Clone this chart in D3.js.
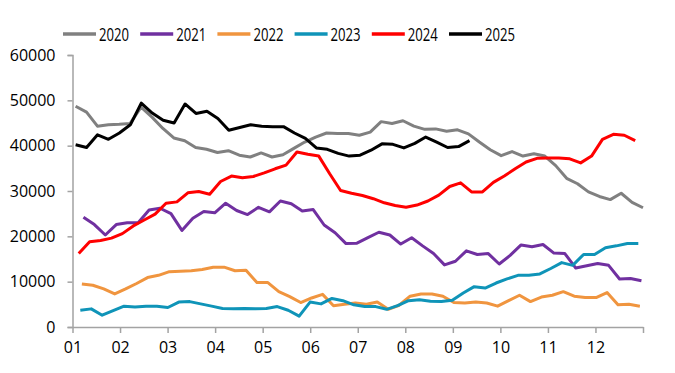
<!DOCTYPE html>
<html>
<head>
<meta charset="utf-8">
<script src="https://cdn.jsdelivr.net/npm/d3@7/dist/d3.min.js"></script>
<style>
  body { margin: 0; background: #fff; }
  svg text { font-family: 'Open Sans', sans-serif; fill: #000; }
</style>
</head>
<body>
<svg></svg>
<script>
var months = ['01', '02', '03', '04', '05', '06', '07', '08', '09', '10', '11', '12'];
var yTicks = [0, 10000, 20000, 30000, 40000, 50000, 60000];
var years = ['2020', '2021', '2022', '2023', '2024', '2025'];
var colors = ['#808080', '#7030a0', '#f0953f', '#0f94b8', '#ff0000', '#000000'];

// weekly readings, first Friday of each year
var firstDates = ['2020-01-03', '2021-01-08', '2022-01-07', '2023-01-06', '2024-01-05', '2025-01-03'];

var values2020 = [48700, 47400, 44300, 44600, 44700, 44900, 48500, 46300, 43800, 41700, 41100, 39600, 39200, 38500,
  38900, 37900, 37500, 38400, 37500, 38000, 39400, 40800, 41900, 42800, 42700, 42700, 42300, 43000, 45300, 44900,
  45500, 44300, 43600, 43700, 43200, 43500, 42600, 40800, 39100, 37800, 38700, 37700, 38200, 37700, 35600, 32800,
  31600, 29800, 28800, 28100, 29500, 27500, 26300];
var values2021 = [24200, 22600, 20300, 22600, 23000, 23000, 25800, 26200, 25000, 21300, 24000, 25500, 25200, 27300,
  25700, 24800, 26400, 25400, 27800, 27200, 25600, 25900, 22500, 20800, 18400, 18500, 19700, 20900, 20300, 18300,
  19700, 17900, 16200, 13700, 14500, 16800, 16000, 16200, 13900, 15800, 18100, 17700, 18200, 16300, 16200, 13000,
  13500, 14000, 13600, 10600, 10700, 10200];
var values2022 = [9500, 9200, 8400, 7300, 8400, 9600, 10900, 11400, 12200, 12300, 12400, 12700, 13200, 13200, 12400,
  12500, 9800, 9800, 7800, 6700, 5400, 6400, 7200, 4700, 5000, 5300, 5000, 5500, 3900, 4800, 6800, 7300, 7300, 6800,
  5400, 5300, 5500, 5300, 4600, 5800, 7000, 5600, 6600, 7000, 7800, 6800, 6500, 6500, 7600, 4900, 5000, 4600];
var values2023 = [3700, 4000, 2600, 3600, 4600, 4400, 4600, 4600, 4300, 5500, 5600, 5100, 4600, 4100, 4000, 4100, 4000,
  4100, 4500, 3700, 2400, 5500, 5100, 6300, 5800, 4900, 4500, 4500, 3900, 4700, 5800, 6000, 5700, 5600, 5900, 7500,
  8900, 8600, 9700, 10600, 11400, 11400, 11700, 12900, 14200, 13600, 16000, 16000, 17500, 17900, 18400, 18400];
var values2024 = [16200, 18800, 19100, 19600, 20600, 22300, 23600, 24900, 27300, 27600, 29600, 29900, 29300, 32100,
  33300, 32900, 33200, 34000, 34900, 35700, 38600, 38100, 37700, 33800, 30100, 29500, 29000, 28300, 27400, 26800,
  26400, 26900, 27800, 29100, 31000, 31800, 29800, 29800, 31900, 33300, 34900, 36400, 37200, 37300, 37300, 37100,
  36200, 37700, 41400, 42500, 42300, 41100];
var values2025 = [40200, 39600, 42400, 41400, 42800, 44600, 49400, 47200, 45600, 45000, 49200, 47100, 47600, 46000,
  43400, 44000, 44600, 44300, 44200, 44200, 42800, 41600, 39500, 39200, 38300, 37700, 37900, 39000, 40400, 40300,
  39500, 40500, 41900, 40800, 39600, 39800, 41100];

var allValues = [values2020, values2021, values2022, values2023, values2024, values2025];

var svgWidth = 675;
var svgHeight = 373;
var plot = { left: 72.5, right: 643, top: 55, bottom: 327 };
var axisColor = '#a3a3a3';

var svg = d3.select('svg').attr('width', svgWidth).attr('height', svgHeight);

var xScale = d3.scaleLinear().domain([0, 365]).range([plot.left, plot.right]);
var yScale = d3.scaleLinear().domain([0, 60000]).range([plot.bottom, plot.top]);

var parseDate = d3.timeParse('%Y-%m-%d');

var series = years.map(function(y, i) {
  var start = parseDate(firstDates[i]);
  var yearStart = new Date(+y, 0, 1);
  var yearLen = d3.timeDay.count(yearStart, new Date(+y + 1, 0, 1));
  return {
    year: y,
    color: colors[i],
    points: allValues[i].map(function(v, k) {
      var day = d3.timeDay.count(yearStart, d3.timeDay.offset(start, k * 7));
      return { day: day / yearLen * 365, value: v };
    })
  };
});

// y axis
var yAxis = svg.append('g')
  .attr('transform', 'translate(' + plot.left + ',0)')
  .call(d3.axisLeft(yScale).tickValues(yTicks).tickSize(5).tickPadding(12).tickFormat(d3.format('d')));
yAxis.select('.domain').attr('stroke', axisColor).attr('stroke-width', 1.5);
yAxis.selectAll('.tick line').attr('stroke', axisColor).attr('stroke-width', 1.5);
yAxis.selectAll('.tick text').style('font-size', '16px').attr('fill', '#000');

// x axis: month boundaries
var monthTicks = d3.range(13).map(function(i) { return i * 365 / 12; });
var xAxis = svg.append('g')
  .attr('transform', 'translate(0,' + plot.bottom + ')')
  .call(d3.axisBottom(xScale).tickValues(monthTicks).tickSize(6).tickSizeOuter(0).tickPadding(9)
    .tickFormat(function(d, i) { return months[i] || ''; }));
xAxis.select('.domain').attr('stroke', axisColor).attr('stroke-width', 1.5);
xAxis.selectAll('.tick line').attr('stroke', axisColor).attr('stroke-width', 1.5);
xAxis.selectAll('.tick text').style('font-size', '16px').attr('fill', '#000');

var line = d3.line()
  .x(function(d) { return xScale(d.day); })
  .y(function(d) { return yScale(d.value); });

svg.append('g')
  .selectAll('path')
  .data(series)
  .enter()
  .append('path')
  .attr('d', function(d) { return line(d.points); })
  .attr('fill', 'none')
  .attr('stroke', function(d) { return d.color; })
  .attr('stroke-width', 3)
  .attr('stroke-linejoin', 'round');

// legend
var legend = svg.append('g').attr('transform', 'translate(63,34)');
var legendItem = legend.selectAll('g')
  .data(series)
  .enter()
  .append('g')
  .attr('transform', function(d, i) { return 'translate(' + (i * 77.2) + ',0)'; });

legendItem.append('line')
  .attr('x1', 0)
  .attr('x2', 33)
  .attr('stroke', function(d) { return d.color; })
  .attr('stroke-width', 3.5);

legendItem.append('text')
  .text(function(d) { return d.year; })
  .attr('x', 36)
  .attr('y', 7)
  .attr('textLength', 30)
  .attr('lengthAdjust', 'spacingAndGlyphs')
  .style('font-size', '18px');
</script>
</body>
</html>
